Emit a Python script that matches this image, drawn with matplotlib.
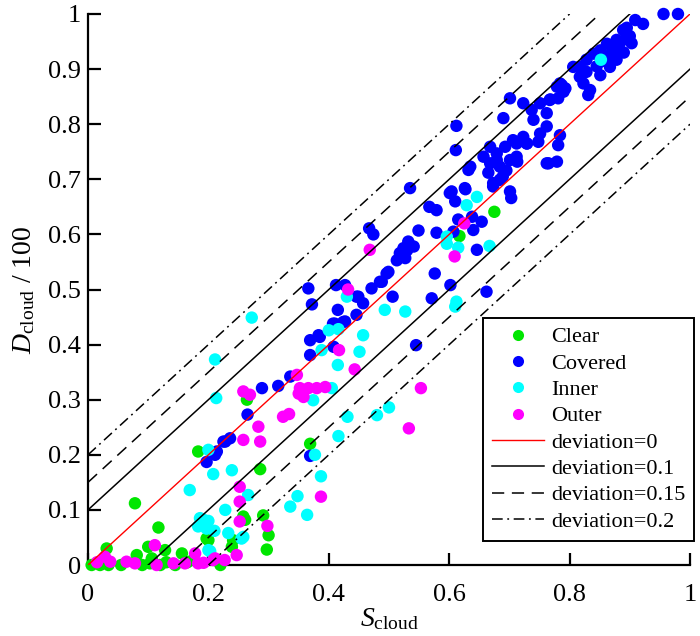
import matplotlib
matplotlib.use("Agg")
import matplotlib.pyplot as plt
from matplotlib.lines import Line2D
import numpy as np

plt.rcParams['font.family'] = ['Liberation Serif', 'DejaVu Serif']
plt.rcParams['mathtext.fontset'] = 'custom'
plt.rcParams['mathtext.rm'] = 'Liberation Serif'
plt.rcParams['mathtext.it'] = 'Liberation Serif:italic'

# ---------------- data ----------------
categories = ["Clear", "Covered", "Inner", "Outer"]
colors = ["#00e600", "#0000ff", "#00ffff", "#ff00ff"]

clear_x = [0.006, 0.02, 0.034, 0.031, 0.078, 0.117, 0.081, 0.100, 0.106, 0.103,
           0.128, 0.130, 0.156, 0.165, 0.183, 0.197, 0.200, 0.239, 0.241, 0.261,
           0.258, 0.286, 0.291, 0.300, 0.297, 0.264, 0.369, 0.617, 0.675, 0.090,
           0.120, 0.145, 0.220, 0.055, 0.175]
clear_y = [0.000, 0.000, 0.000, 0.030, 0.112, 0.068, 0.018, 0.033, 0.012, 0.003,
           0.027, 0.005, 0.021, 0.005, 0.206, 0.048, 0.045, 0.033, 0.045, 0.082,
           0.088, 0.174, 0.090, 0.054, 0.028, 0.300, 0.220, 0.597, 0.641, 0.000,
           0.000, 0.000, 0.000, 0.000, 0.010]

covered_x = [0.197, 0.211, 0.214, 0.225, 0.236, 0.228, 0.265, 0.289, 0.316, 0.336,
             0.369, 0.369, 0.383, 0.369, 0.385, 0.408, 0.372, 0.366, 0.407, 0.427,
             0.415, 0.446, 0.412, 0.427, 0.446, 0.457, 0.471, 0.485, 0.496, 0.410,
             0.424, 0.449, 0.488, 0.499, 0.506, 0.513, 0.518, 0.527, 0.530, 0.524,
             0.532, 0.541, 0.549, 0.579, 0.567, 0.579, 0.535, 0.467, 0.474, 0.545,
             0.571, 0.576, 0.602, 0.662, 0.646, 0.607, 0.615, 0.640, 0.654, 0.638,
             0.604, 0.610, 0.627, 0.632, 0.635, 0.612, 0.611, 0.601, 0.626, 0.673,
             0.689, 0.701, 0.703, 0.713, 0.762, 0.657, 0.668, 0.679, 0.701, 0.695,
             0.684, 0.673, 0.668, 0.665, 0.679, 0.693, 0.712, 0.706, 0.690, 0.701,
             0.723, 0.737, 0.740, 0.762, 0.751, 0.723, 0.729, 0.784, 0.781, 0.765,
             0.779, 0.748, 0.762, 0.767, 0.779, 0.784, 0.793, 0.787, 0.790, 0.781,
             0.768, 0.751, 0.806, 0.817, 0.828, 0.840, 0.851, 0.862, 0.873, 0.878,
             0.889, 0.895, 0.903, 0.884, 0.867, 0.867, 0.878, 0.851, 0.828, 0.817,
             0.823, 0.834, 0.831, 0.909, 0.922, 0.956, 0.980, 0.895, 0.900, 0.885,
             0.890, 0.870, 0.855, 0.845, 0.712, 0.729, 0.684]
covered_y = [0.187, 0.200, 0.206, 0.224, 0.230, 0.224, 0.273, 0.321, 0.325, 0.342,
             0.198, 0.408, 0.417, 0.381, 0.414, 0.396, 0.473, 0.502, 0.438, 0.442,
             0.463, 0.454, 0.508, 0.508, 0.487, 0.475, 0.502, 0.514, 0.529, 0.438,
             0.441, 0.487, 0.514, 0.532, 0.487, 0.553, 0.566, 0.557, 0.571, 0.575,
             0.587, 0.578, 0.607, 0.603, 0.650, 0.644, 0.684, 0.611, 0.600, 0.399,
             0.484, 0.529, 0.508, 0.496, 0.572, 0.605, 0.627, 0.608, 0.623, 0.632,
             0.678, 0.660, 0.682, 0.717, 0.723, 0.797, 0.753, 0.675, 0.684, 0.693,
             0.705, 0.678, 0.666, 0.732, 0.729, 0.741, 0.759, 0.735, 0.735, 0.716,
             0.699, 0.687, 0.729, 0.712, 0.747, 0.759, 0.741, 0.771, 0.811, 0.847,
             0.838, 0.826, 0.808, 0.796, 0.783, 0.777, 0.765, 0.780, 0.762, 0.729,
             0.732, 0.768, 0.820, 0.844, 0.868, 0.874, 0.865, 0.871, 0.859, 0.847,
             0.845, 0.838, 0.904, 0.904, 0.917, 0.928, 0.934, 0.946, 0.940, 0.953,
             0.971, 0.959, 0.947, 0.934, 0.924, 0.904, 0.917, 0.889, 0.895, 0.886,
             0.874, 0.862, 0.853, 0.989, 0.982, 1.000, 1.000, 0.975, 0.960, 0.950,
             0.930, 0.930, 0.915, 0.905, 0.765, 0.765, 0.723]

inner_x = [0.169, 0.208, 0.239, 0.200, 0.211, 0.213, 0.272, 0.186, 0.200, 0.183,
           0.197, 0.210, 0.192, 0.200, 0.203, 0.228, 0.233, 0.255, 0.258, 0.266,
           0.336, 0.348, 0.364, 0.387, 0.377, 0.374, 0.405, 0.388, 0.400, 0.416,
           0.415, 0.430, 0.457, 0.451, 0.493, 0.527, 0.416, 0.431, 0.480, 0.500,
           0.596, 0.596, 0.615, 0.610, 0.612, 0.667, 0.629, 0.646, 0.852]
inner_y = [0.136, 0.165, 0.172, 0.209, 0.373, 0.303, 0.449, 0.085, 0.080, 0.070,
           0.066, 0.062, 0.082, 0.027, 0.025, 0.100, 0.058, 0.048, 0.051, 0.127,
           0.106, 0.125, 0.091, 0.161, 0.200, 0.299, 0.321, 0.390, 0.426, 0.428,
           0.363, 0.487, 0.417, 0.387, 0.463, 0.460, 0.234, 0.269, 0.272, 0.286,
           0.596, 0.583, 0.576, 0.469, 0.478, 0.579, 0.653, 0.668, 0.917]

outer_x = [0.015, 0.028, 0.037, 0.064, 0.078, 0.111, 0.114, 0.142, 0.161, 0.178,
           0.183, 0.211, 0.227, 0.208, 0.192, 0.247, 0.252, 0.252, 0.252, 0.298,
           0.258, 0.286, 0.283, 0.258, 0.269, 0.324, 0.334, 0.347, 0.352, 0.366,
           0.358, 0.350, 0.380, 0.394, 0.387, 0.417, 0.443, 0.432, 0.468, 0.609,
           0.625, 0.553, 0.533]
outer_y = [0.005, 0.015, 0.006, 0.006, 0.003, 0.036, 0.000, 0.003, 0.003, 0.021,
           0.003, 0.012, 0.009, 0.009, 0.004, 0.018, 0.079, 0.115, 0.142, 0.071,
           0.227, 0.224, 0.251, 0.315, 0.309, 0.269, 0.274, 0.345, 0.321, 0.321,
           0.305, 0.311, 0.321, 0.323, 0.124, 0.390, 0.355, 0.500, 0.572, 0.560,
           0.620, 0.321, 0.248]

deviations = [0, 0.1, 0.15, 0.2]
dev_labels = ["deviation=0", "deviation=0.1", "deviation=0.15", "deviation=0.2"]

xticks = [0, 0.2, 0.4, 0.6, 0.8, 1]
xtick_labels = ["0", "0.2", "0.4", "0.6", "0.8", "1"]
yticks = [0, 0.1, 0.2, 0.3, 0.4, 0.5, 0.6, 0.7, 0.8, 0.9, 1]
ytick_labels = ["0", "0.1", "0.2", "0.3", "0.4", "0.5", "0.6", "0.7", "0.8", "0.9", "1"]

# ---------------- figure ----------------
fig = plt.figure(figsize=(7.0, 6.36), dpi=100)
ax = fig.add_axes([88/700, 1-565/636, 602/700, 551/636])

series = [(clear_x, clear_y), (covered_x, covered_y), (inner_x, inner_y), (outer_x, outer_y)]
for (xs, ys), c in zip(series, colors):
    ax.scatter(xs, ys, s=80, color=c, edgecolors='none', zorder=3, clip_on=False)

styles = [dict(color='red', lw=1.0, ls='-'),
          dict(color='black', lw=1.1, ls='-'),
          dict(color='black', lw=1.1, ls=(0, (8, 5))),
          dict(color='black', lw=1.1, ls=(0, (7, 3, 1.2, 3)))]

for d, st in zip(deviations, styles):
    for sgn in ([1] if d == 0 else [1, -1]):
        off = sgn * d
        x0 = max(0.0, -off)
        x1 = min(1.0, 1.0 - off)
        ax.plot([x0, x1], [x0 + off, x1 + off], zorder=4, **st)

ax.set_xlim(0, 1)
ax.set_ylim(0, 1)
ax.set_xticks(xticks)
ax.set_xticklabels(xtick_labels)
ax.set_yticks(yticks)
ax.set_yticklabels(ytick_labels)
ax.spines['top'].set_visible(False)
ax.spines['right'].set_visible(False)
for sp in ['left', 'bottom']:
    ax.spines[sp].set_linewidth(1.6)
ax.tick_params(direction='in', length=9, width=1.6, labelsize=19)
ax.tick_params(axis='x', pad=14)
ax.tick_params(axis='y', pad=5)

ax.set_xlabel(r'$S_{\mathrm{cloud}}$', fontsize=20, labelpad=0)
ax.set_ylabel(r'$D_{\mathrm{cloud}}$ / 100', fontsize=20, labelpad=8)

handles = []
for cat, c in zip(categories, colors):
    handles.append(Line2D([], [], ls='none', marker='o', markersize=8,
                          markerfacecolor=c, markeredgecolor='none', label=cat))
for lab, st in zip(dev_labels, styles):
    handles.append(Line2D([], [], label=lab, **st))

leg = ax.legend(handles=handles, loc='upper left', bbox_to_anchor=(483/700, 1-318/636),
                bbox_transform=fig.transFigure, fontsize=16, frameon=True, fancybox=False,
                framealpha=1, edgecolor='black', handlelength=2.35, handletextpad=0.3,
                labelspacing=0.26, borderpad=0.4, borderaxespad=0)
leg.get_frame().set_linewidth(1.4)
leg.set_zorder(10)

fig.savefig("out.png", dpi=100)
